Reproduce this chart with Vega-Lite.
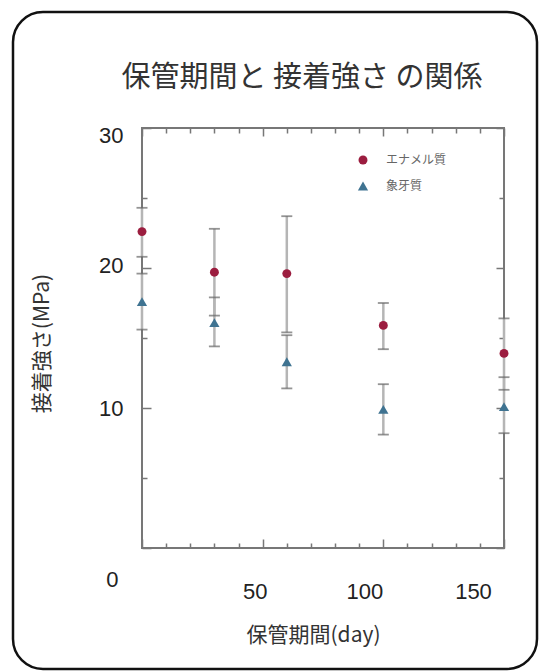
{
  "$schema": "https://vega.github.io/schema/vega-lite/v6.json",
  "autosize": {"type": "none"},
  "padding": {"left": 13, "top": 12, "right": 2, "bottom": 3},
  "width": 524,
  "height": 657,
  "background": "white",
  "config": {
    "view": {"stroke": "#111", "strokeWidth": 2.5, "cornerRadius": 30, "fill": "white"},
    "axis": {"domain": false, "grid": false, "tickColor": "#777", "tickWidth": 1.5,
      "labelFont": "Liberation Sans", "labelFontSize": 22, "labelColor": "#222",
      "titleFont": "Noto Sans CJK JP", "titleFontSize": 21, "titleColor": "#333", "titleFontWeight": "normal"}
  },
  "title": {
    "text": "保管期間と 接着強さ の関係",
    "font": "Noto Sans CJK JP", "fontSize": 29, "fontWeight": "normal", "color": "#333",
    "anchor": "middle", "frame": "group", "dx": 27, "offset": -95, "baseline": "middle"
  },
  "data": {"values": [
    {"day": 0, "type": "エナメル質", "mean": 22.6, "lo": 20.8, "hi": 24.3},
    {"day": 0, "type": "象牙質", "mean": 17.6, "lo": 15.6, "hi": 19.6},
    {"day": 30, "type": "エナメル質", "mean": 19.7, "lo": 16.6, "hi": 22.8},
    {"day": 30, "type": "象牙質", "mean": 16.1, "lo": 14.4, "hi": 17.9},
    {"day": 60, "type": "エナメル質", "mean": 19.6, "lo": 15.4, "hi": 23.7},
    {"day": 60, "type": "象牙質", "mean": 13.3, "lo": 11.4, "hi": 15.2},
    {"day": 100, "type": "エナメル質", "mean": 15.9, "lo": 14.2, "hi": 17.5},
    {"day": 100, "type": "象牙質", "mean": 9.9, "lo": 8.1, "hi": 11.7},
    {"day": 150, "type": "エナメル質", "mean": 13.9, "lo": 11.3, "hi": 16.4},
    {"day": 150, "type": "象牙質", "mean": 10.1, "lo": 8.2, "hi": 12.2}
  ]},
  "resolve": {"axis": {"x": "independent", "y": "independent"}},
  "layer": [
    {
      "data": {"values": [{}]},
      "mark": {"type": "rect", "fill": "transparent", "stroke": "#777", "strokeWidth": 2, "clip": false},
      "encoding": {
        "x": {"datum": 0, "type": "quantitative",
          "scale": {"domain": [-53.45, 163.67], "nice": false, "zero": false},
          "axis": {"orient": "bottom", "offset": -121, "title": "保管期間(day)",
            "values": [0,10,20,30,40,50,60,70,80,90,100,110,120,130,140,150],
            "labelExpr": "datum.value % 50 === 0 && datum.value > 0 ? datum.label : ''",
            "tickSize": {"condition": {"test": "datum.value % 50 === 0", "value": -9}, "value": -5},
            "labelPadding": 52, "labelBaseline": "middle",
            "labelOffset": {"condition": [
              {"test": "datum.value === 50", "value": -8},
              {"test": "datum.value === 100", "value": -19},
              {"test": "datum.value === 150", "value": -31}], "value": 0},
            "titleX": 300, "titleY": 87, "titleBaseline": "middle", "titleAlign": "center"
          }},
        "x2": {"datum": 150},
        "y": {"datum": 0, "type": "quantitative",
          "scale": {"domain": [-8.643, 38.286], "nice": false, "zero": false},
          "axis": {"orient": "left", "offset": -129, "title": "接着強さ(MPa)",
            "values": [0,5,10,15,20,25,30],
            "labelExpr": "datum.value % 10 === 0 ? datum.label : ''",
            "tickSize": {"condition": {"test": "datum.value % 10 === 0", "value": -9}, "value": -5},
            "labelPadding": {"condition": {"test": "datum.value === 0", "value": 33}, "value": 28},
            "labelOffset": {"condition": [
              {"test": "datum.value === 30", "value": 7},
              {"test": "datum.value === 20", "value": -3},
              {"test": "datum.value === 0", "value": 32}], "value": 0},
            "titleX": -100, "titleY": 331, "titleAngle": -90, "titleBaseline": "middle", "titleAlign": "center"
          }},
        "y2": {"datum": 30}
      }
    },
    {
      "mark": {"type": "rule", "color": "#b5b5b5", "strokeWidth": 2.5},
      "encoding": {
        "x": {"field": "day", "type": "quantitative",
          "axis": {"orient": "top", "offset": -116, "title": null, "labels": false,
            "values": [0,10,20,30,40,50,60,70,80,90,100,110,120,130,140,150],
            "tickSize": {"condition": {"test": "datum.value % 50 === 0", "value": -8}, "value": -5}}},
        "y": {"field": "lo", "type": "quantitative",
          "axis": {"orient": "right", "offset": -33, "title": null, "labels": false,
            "values": [0,5,10,15,20,25,30],
            "tickSize": {"condition": {"test": "datum.value % 10 === 0", "value": -8}, "value": -5}}},
        "y2": {"field": "hi"}
      }
    },
    {
      "transform": [{"fold": ["lo", "hi"], "as": ["end", "val"]}],
      "mark": {"type": "tick", "orient": "horizontal", "size": 11, "thickness": 1.8, "color": "#666"},
      "encoding": {
        "x": {"field": "day", "type": "quantitative", "axis": null},
        "y": {"field": "val", "type": "quantitative", "axis": null}
      }
    },
    {
      "mark": {"type": "point", "filled": true, "opacity": 1},
      "encoding": {
        "x": {"field": "day", "type": "quantitative", "axis": null},
        "y": {"field": "mean", "type": "quantitative", "axis": null},
        "size": {"field": "type", "type": "nominal",
          "scale": {"domain": ["エナメル質", "象牙質"], "range": [80, 105]}, "legend": null},
        "color": {"field": "type", "type": "nominal",
          "scale": {"domain": ["エナメル質", "象牙質"], "range": ["#9B1D3F", "#3F7391"]},
          "legend": {"title": null, "orient": "none", "legendX": 344, "legendY": 142,
            "labelFont": "Noto Sans CJK JP", "labelFontSize": 12, "labelColor": "#666",
            "symbolSize": 60, "rowPadding": 14, "labelOffset": 17, "symbolStrokeWidth": 0}},
        "shape": {"field": "type", "type": "nominal",
          "scale": {"domain": ["エナメル質", "象牙質"], "range": ["circle", "triangle-up"]},
          "legend": {"title": null, "orient": "none", "legendX": 344, "legendY": 142}}
      }
    }
  ]
}
